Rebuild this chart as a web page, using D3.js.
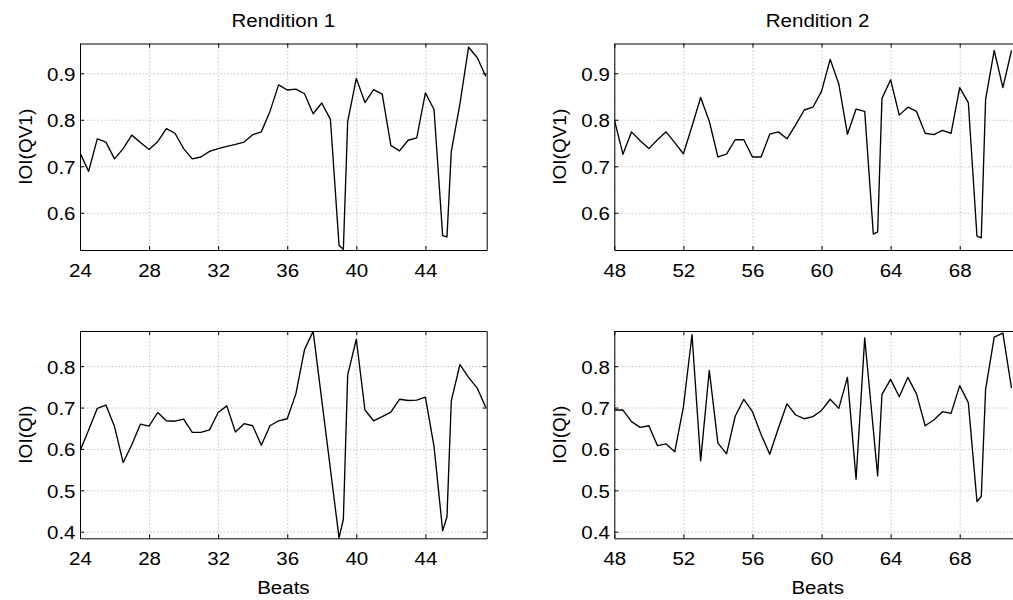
<!DOCTYPE html>
<html>
<head>
<meta charset="utf-8">
<script src="https://cdn.jsdelivr.net/npm/d3@7"></script>
<style>
  body { margin: 0; background: #fff; }
  svg { display: block; font-family: "Liberation Sans", Arial, Helvetica, sans-serif; }
  .grid line { stroke: #c4c4c4; stroke-width: 1; stroke-dasharray: 1.5 2; }
  .grid path { display: none; }
  .frame path, .frame line { stroke: #000; stroke-width: 1; }
</style>
</head>
<body>
<svg id="chart" width="1013" height="600"></svg>
<script>
// Note onsets (beats) and inter-onset intervals, rendition 1
const beatsR1 = [24, 24.5, 25, 25.5, 26, 26.5, 27, 27.5, 28, 28.5, 29, 29.5, 30, 30.5, 31, 31.5,
  32, 32.5, 33, 33.5, 34, 34.5, 35, 35.5, 36, 36.5, 37, 37.5, 38, 38.5, 39, 39.25, 39.5,
  40, 40.5, 41, 41.5, 42, 42.5, 43, 43.5, 44, 44.5, 45, 45.25, 45.5, 46, 46.5, 47, 47.5];
const qv1R1 = [0.729, 0.689, 0.759, 0.752, 0.716, 0.738, 0.767, 0.751, 0.736, 0.753, 0.781, 0.771,
  0.738, 0.716, 0.720, 0.732, 0.738, 0.743, 0.747, 0.752, 0.768, 0.774, 0.818, 0.875, 0.864,
  0.866, 0.856, 0.813, 0.836, 0.801, 0.530, 0.521, 0.796, 0.889, 0.837, 0.865, 0.855, 0.745,
  0.733, 0.756, 0.761, 0.858, 0.822, 0.551, 0.548, 0.732, 0.834, 0.956, 0.934, 0.893];
const qiR1 = [0.595, 0.646, 0.698, 0.706, 0.654, 0.567, 0.610, 0.660, 0.655, 0.688, 0.668, 0.667,
  0.672, 0.640, 0.640, 0.646, 0.688, 0.704, 0.641, 0.661, 0.656, 0.609, 0.656, 0.668, 0.673,
  0.733, 0.840, 0.884, null, null, 0.385, 0.430, 0.779, 0.865, 0.694, 0.668, 0.678, 0.689,
  0.720, 0.717, 0.718, 0.725, 0.606, 0.402, 0.436, 0.716, 0.804, 0.773, 0.747, 0.700];

// Note onsets (beats) and inter-onset intervals, rendition 2
const beatsR2 = [48, 48.5, 49, 49.5, 50, 50.5, 51, 51.5, 52, 52.5, 53, 53.5, 54, 54.5, 55, 55.5,
  56, 56.5, 57, 57.5, 58, 58.5, 59, 59.5, 60, 60.5, 61, 61.5, 62, 62.5, 63, 63.25, 63.5,
  64, 64.5, 65, 65.5, 66, 66.5, 67, 67.5, 68, 68.5, 69, 69.25, 69.5, 70, 70.5, 71];
const qv1R2 = [0.800, 0.726, 0.774, 0.755, 0.738, 0.757, 0.774, 0.751, 0.727, 0.786, 0.848, 0.797,
  0.720, 0.726, 0.757, 0.757, 0.720, 0.720, 0.769, 0.774, 0.759, 0.789, 0.821, 0.827, 0.861,
  0.930, 0.877, 0.769, 0.823, 0.818, 0.554, 0.559, 0.846, 0.886, 0.810, 0.827, 0.818, 0.771,
  0.768, 0.777, 0.771, 0.869, 0.837, 0.550, 0.546, 0.844, 0.949, 0.869, 0.949];
const qiR2 = [0.694, 0.694, 0.666, 0.652, 0.656, 0.608, 0.612, 0.593, 0.701, 0.876, 0.571, 0.790,
  0.614, 0.588, 0.679, 0.720, 0.690, 0.635, 0.587, 0.650, 0.709, 0.682, 0.673, 0.678, 0.693,
  0.720, 0.698, 0.773, 0.527, 0.868, null, 0.535, 0.732, 0.768, 0.726, 0.773, 0.733, 0.656,
  0.670, 0.690, 0.686, 0.753, 0.712, 0.473, 0.485, 0.744, 0.870, 0.880, 0.747];

// Tick values
const xTicksR1 = [24, 28, 32, 36, 40, 44];
const xTicksR2 = [48, 52, 56, 60, 64, 68];
const yTicksQV1 = [0.6, 0.7, 0.8, 0.9];
const yTicksQI = [0.4, 0.5, 0.6, 0.7, 0.8];

const titles = ["Rendition 1", "Rendition 2"];
const yLabels = ["IOI(QV1)", "IOI(QI)"];
const xLabel = "Beats";

const FONT = 19;
const SX = 1.08;   // slight horizontal widening of the lettering

const svg = d3.select("#chart");
svg.append("rect").attr("width", 1013).attr("height", 600).attr("fill", "#fff");

const colX = [80, 614.3];
const panelW = 406.7;
const rows = [
  { y: 43.5, h: 206.5, yDomain: [0.52, 0.964], yTicks: yTicksQV1, label: yLabels[0], tickBase: 27 },
  { y: 331, h: 207.3, yDomain: [0.384, 0.885], yTicks: yTicksQI, label: yLabels[1], tickBase: 26.7 }
];
const cols = [
  { x: colX[0], beats: beatsR1, series: [qv1R1, qiR1], xDomain: [24, 47.55], xTicks: xTicksR1, title: titles[0] },
  { x: colX[1], beats: beatsR2, series: [qv1R2, qiR2], xDomain: [48, 71.55], xTicks: xTicksR2, title: titles[1] }
];

const fmt = d3.format(".1f");

rows.forEach((row, ri) => {
  cols.forEach((col, ci) => {
    const w = panelW, h = row.h;
    const g = svg.append("g").attr("transform", `translate(${col.x},${row.y})`);
    const x = d3.scaleLinear().domain(col.xDomain).range([0, w]);
    const y = d3.scaleLinear().domain(row.yDomain).range([h, 0]);

    // dotted grid
    g.append("g").attr("class", "grid")
      .call(d3.axisBottom(x).tickValues(col.xTicks).tickSize(h).tickFormat(""));
    g.append("g").attr("class", "grid")
      .call(d3.axisLeft(y).tickValues(row.yTicks).tickSize(-w).tickFormat(""));

    // data line
    const clipId = `clip-${ri}-${ci}`;
    g.append("clipPath").attr("id", clipId)
      .append("rect").attr("width", w).attr("height", h);
    const pts = col.beats.map((b, i) => [b, col.series[ri][i]]).filter(d => d[1] !== null);
    g.append("path")
      .datum(pts)
      .attr("clip-path", `url(#${clipId})`)
      .attr("fill", "none")
      .attr("stroke", "#000")
      .attr("stroke-width", 1.35)
      .attr("stroke-linejoin", "round")
      .attr("d", d3.line().x(d => x(d[0])).y(d => y(d[1])));

    // box with inward ticks
    const bottom = g.append("g").attr("class", "frame")
      .attr("transform", `translate(0,${h})`)
      .call(d3.axisBottom(x).tickValues(col.xTicks).tickSizeInner(-4).tickSizeOuter(0));
    bottom.selectAll("text")
      .attr("y", row.tickBase).attr("dy", null)
      .attr("fill", "#000")
      .style("font-size", FONT + "px")
      .attr("transform", `scale(${SX},1)`);

    g.append("g").attr("class", "frame")
      .call(d3.axisTop(x).tickValues(col.xTicks).tickSizeInner(-4).tickSizeOuter(0).tickFormat(""));

    const left = g.append("g").attr("class", "frame")
      .call(d3.axisLeft(y).tickValues(row.yTicks).tickSizeInner(-4).tickSizeOuter(0).tickFormat(fmt));
    left.selectAll("text")
      .attr("x", 0).attr("dy", "0.36em")
      .attr("fill", "#000")
      .style("font-size", FONT + "px")
      .attr("transform", `translate(-4.5,0) scale(${SX},1)`);

    g.append("g").attr("class", "frame")
      .attr("transform", `translate(${w},0)`)
      .call(d3.axisRight(y).tickValues(row.yTicks).tickSizeInner(-4).tickSizeOuter(0).tickFormat(""));

    // y label
    g.append("text")
      .attr("transform", `translate(-48,${h / 2}) rotate(-90)`)
      .attr("text-anchor", "middle")
      .style("font-size", FONT + "px")
      .text(row.label);

    // column title above the top row
    if (ri === 0) {
      g.append("text")
        .attr("transform", `translate(${w / 2},${27 - row.y}) scale(${SX},1)`)
        .attr("text-anchor", "middle")
        .style("font-size", FONT + "px")
        .text(col.title);
    }
    // x label under the bottom row
    if (ri === 1) {
      g.append("text")
        .attr("transform", `translate(${w / 2},${594 - row.y}) scale(${SX},1)`)
        .attr("text-anchor", "middle")
        .style("font-size", FONT + "px")
        .text(xLabel);
    }
  });
});
</script>
</body>
</html>
